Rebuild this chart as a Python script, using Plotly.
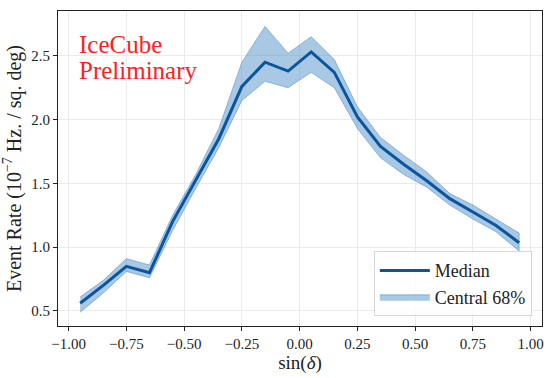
import plotly.graph_objects as go

sin_dec = [-0.95, -0.85, -0.75, -0.65, -0.55, -0.45, -0.35, -0.25, -0.15, -0.05,
           0.05, 0.15, 0.25, 0.35, 0.45, 0.55, 0.65, 0.75, 0.85, 0.95]
median = [0.56, 0.70, 0.85, 0.80, 1.20, 1.52, 1.85, 2.26, 2.45, 2.38,
          2.53, 2.37, 2.02, 1.79, 1.65, 1.52, 1.38, 1.275, 1.17, 1.035]
upper = [0.61, 0.74, 0.91, 0.86, 1.25, 1.57, 1.93, 2.45, 2.73, 2.52,
         2.65, 2.47, 2.10, 1.86, 1.72, 1.59, 1.42, 1.33, 1.22, 1.11]
lower = [0.49, 0.64, 0.81, 0.76, 1.13, 1.46, 1.78, 2.15, 2.30, 2.25,
         2.37, 2.25, 1.93, 1.70, 1.57, 1.47, 1.33, 1.22, 1.12, 0.97]

line_col = '#0b559f'
band_col = 'rgba(64,134,196,0.45)'
serif = 'Liberation Serif, DejaVu Serif, serif'

fig = go.Figure()

fig.add_trace(go.Scatter(x=sin_dec + sin_dec[::-1],
                         y=upper + lower[::-1],
                         fill='toself',
                         fillcolor=band_col,
                         line=dict(color='rgba(64,134,196,0.5)', width=1),
                         mode='lines',
                         name='Central 68%',
                         legendrank=2))

fig.add_trace(go.Scatter(x=sin_dec, y=median,
                         mode='lines',
                         line=dict(color=line_col, width=3),
                         name='Median',
                         legendrank=1))

axis = dict(showline=True, linecolor='#222', linewidth=1, mirror=True,
            ticks='outside', ticklen=4, tickcolor='#222',
            showgrid=True, gridcolor='#ebebeb', gridwidth=1,
            zeroline=False, automargin=False,
            tickfont=dict(family=serif, size=15, color='#222'))

fig.update_layout(
    width=554, height=378,
    margin=dict(l=58, r=12, t=11, b=52),
    plot_bgcolor='white', paper_bgcolor='white',
    font=dict(family=serif, color='#222'),
    xaxis=dict(axis, range=[-1.046, 1.049], tickvals=[-1, -0.75, -0.5, -0.25, 0, 0.25, 0.5, 0.75, 1],
               tickformat='.2f',
               title=dict(text='sin(<i>δ</i>)', font=dict(family=serif, size=19), standoff=4)),
    yaxis=dict(axis, range=[0.382, 2.851], tickvals=[0.5, 1.0, 1.5, 2.0, 2.5],
               tickformat='.1f',
               title=dict(text='Event Rate (10<sup>−7</sup> Hz. / sq. deg)',
                          font=dict(family=serif, size=20), standoff=4)),
    legend=dict(x=0.979, y=0.031, xanchor='right', yanchor='bottom',
                bgcolor='rgba(255,255,255,0.8)', bordercolor='#d8d8d8', borderwidth=1,
                font=dict(family=serif, size=18, color='#222'),
                itemwidth=50),
    showlegend=True,
)

fig.add_annotation(text='IceCube', xref='paper', yref='paper', x=0.04, y=0.895,
                   xanchor='left', yanchor='middle', showarrow=False,
                   font=dict(family=serif, size=25, color='#ff2020'))
fig.add_annotation(text='Preliminary', xref='paper', yref='paper', x=0.04, y=0.81,
                   xanchor='left', yanchor='middle', showarrow=False,
                   font=dict(family=serif, size=25, color='#ff2020'))

# drop the default 8px body margin so the figure sits at the window corner
fig.write_html('out.html', config={'displayModeBar': False},
               post_script="document.body.style.margin='0';")
